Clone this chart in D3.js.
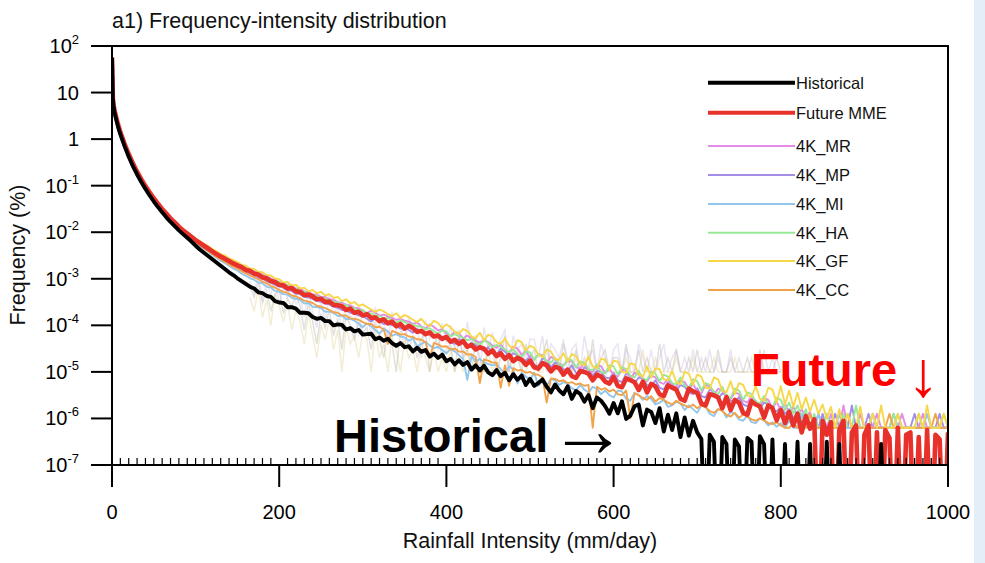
<!DOCTYPE html>
<html><head><meta charset="utf-8">
<script src="https://cdn.jsdelivr.net/npm/d3@7"></script>
<style>
html,body{margin:0;padding:0;background:#fff;}
svg{display:block;font-family:"Liberation Sans",Arial,Helvetica,sans-serif;}
</style></head>
<body><svg id="chart" width="985" height="563"></svg>
<script>
// ---------- DATA (log10 of frequency in %; null = zero count) ----------
const binsHead = [0, 1, 2, 3, 5, 7, 10];           // fine bins at start (mm/day)
const binsMain = d3.range(15, 1001, 5);            // 15..1000 mm/day, step 5
const intensity = binsHead.concat(binsMain);

const historicalLog = [
 1.75,0.85,0.68,0.58,0.42,0.28,0.10,
 -0.15,-0.38,-0.58,-0.76,-0.92,-1.07,-1.21,-1.34,-1.46,-1.57,-1.68,-1.78,-1.87,-1.96,-2.04,-2.12,-2.20,
 -2.29,-2.37,-2.44,-2.51,-2.58,-2.65,-2.72,-2.79,-2.86,-2.92,-2.99,-3.05,-3.11,-3.17,-3.21,-3.29,-3.31,-3.37,-3.39,-3.48,
 -3.51,-3.52,-3.61,-3.61,-3.64,-3.73,-3.73,-3.74,-3.82,-3.86,-3.84,-3.91,-3.91,-4.00,-3.98,-3.99,-4.09,-4.06,-4.13,-4.10,
 -4.20,-4.19,-4.18,-4.30,-4.26,-4.33,-4.29,-4.38,-4.44,-4.38,-4.47,-4.45,-4.56,-4.48,-4.57,-4.53,-4.67,-4.61,-4.70,-4.63,
 -4.77,-4.72,-4.84,-4.75,-4.85,-4.79,-4.95,-4.86,-4.97,-4.87,-5.01,-5.07,-4.96,-5.09,-5.02,-5.18,-5.05,-5.17,-5.08,-5.28,
 -5.15,-5.30,-5.24,-5.16,-5.32,-5.44,-5.27,-5.40,-5.48,-5.31,-5.58,-5.41,-5.47,-5.64,-5.50,-5.78,-5.55,-5.62,-5.74,-5.90,
 -5.67,-5.89,-5.63,-6.01,-5.94,-5.74,-5.70,-6.15,-5.81,-5.86,-6.10,-5.78,-6.28,-5.92,-6.25,-5.89,-6.40,-5.98,-6.37,-6.05,
 -6.30,-6.44,null,-6.35,-6.50,null,-6.40,-6.55,null,-6.45,-6.60,null,-6.42,-6.50,null,-6.38,-6.55,null,-6.45,null,
 null,-6.55,null,null,-6.50,null,null,-6.55,null,null,null,-6.50,null,null,-6.55,null,null,null,null,null,
 null,null,null,null,-6.55,null,null,null,null,null,null,null,null,null,null,null,null,null,null,null,
 null
];

const futureMMELog = [
 1.75,0.88,0.72,0.62,0.47,0.33,0.15,
 -0.10,-0.32,-0.52,-0.70,-0.86,-1.01,-1.14,-1.27,-1.39,-1.50,-1.60,-1.70,-1.79,-1.88,-1.96,-2.03,-2.10,
 -2.17,-2.23,-2.29,-2.35,-2.41,-2.47,-2.52,-2.57,-2.62,-2.67,-2.71,-2.75,-2.81,-2.83,-2.89,-2.91,-2.97,-2.99,-3.05,-3.07,
 -3.13,-3.14,-3.21,-3.20,-3.27,-3.28,-3.35,-3.34,-3.38,-3.44,-3.43,-3.50,-3.49,-3.56,-3.57,-3.59,-3.67,-3.64,-3.73,-3.71,
 -3.79,-3.76,-3.84,-3.83,-3.91,-3.87,-3.96,-3.92,-4.02,-3.97,-4.07,-4.01,-4.06,-4.14,-4.12,-4.19,-4.15,-4.24,-4.22,-4.29,
 -4.25,-4.35,-4.31,-4.40,-4.34,-4.46,-4.42,-4.52,-4.47,-4.50,-4.61,-4.54,-4.66,-4.60,-4.72,-4.64,-4.77,-4.70,-4.74,-4.85,
 -4.76,-4.90,-4.93,-4.81,-4.86,-4.99,-4.89,-4.92,-5.06,-4.95,-5.09,-5.13,-4.98,-5.00,-5.04,-5.18,-5.06,-5.10,-5.21,-5.25,
 -5.11,-5.30,-5.33,-5.14,-5.18,-5.22,-5.39,-5.21,-5.44,-5.26,-5.31,-5.48,-5.52,-5.29,-5.34,-5.38,-5.58,-5.62,-5.36,-5.42,
 -5.45,-5.68,-5.72,-5.48,-5.50,-5.55,-5.78,-5.54,-5.82,-5.60,-5.66,-5.88,-5.92,-5.63,-5.70,-5.74,-5.98,-5.72,-5.78,-6.04,
 -5.82,-6.10,-5.86,-6.15,-5.90,-6.30,-5.95,-6.22,-6.02,null,-6.05,-6.35,-6.08,null,-6.25,-6.05,null,-6.30,-6.15,null,
 -6.35,-6.15,null,-6.30,null,-6.25,-6.42,null,-6.20,null,-6.35,-6.30,null,-6.40,null,-6.25,null,-6.35,-6.45,null,
 -6.30
];

// ensemble members: bins 100..1000 step 5
const memberBins = d3.range(100, 1001, 5);

const mrLog = [
 -2.16,-2.22,-2.27,-2.33,-2.39,-2.45,-2.49,-2.54,-2.59,-2.64,-2.68,-2.72,-2.76,-2.80,-2.84,-2.87,-2.91,-2.95,-2.99,-3.03,
 -3.07,-3.09,-3.14,-3.15,-3.21,-3.21,-3.27,-3.28,-3.33,-3.34,-3.39,-3.39,-3.44,-3.45,-3.50,-3.52,-3.56,-3.57,-3.62,-3.63,
 -3.69,-3.74,-3.68,-3.73,-3.79,-3.77,-3.81,-3.84,-3.88,-3.86,-3.90,-3.92,-3.97,-3.94,-4.02,-4.07,-3.98,-4.03,-4.11,-4.08,
 -4.18,-4.23,-4.14,-4.17,-4.28,-4.22,-4.28,-4.33,-4.37,-4.32,-4.36,-4.43,-4.48,-4.41,-4.53,-4.58,-4.46,-4.50,-4.63,-4.55,
 -4.70,-4.74,-4.62,-4.64,-4.80,-4.68,-4.72,-4.83,-4.86,-4.76,-4.78,-4.90,-4.93,-4.82,-4.96,-5.00,-4.86,-4.88,-5.03,-4.92,
 -5.07,-5.10,-4.95,-4.98,-5.14,-5.02,-5.06,-5.16,-5.20,-5.08,-5.12,-5.22,-5.26,-5.15,-5.30,-5.32,-5.18,-5.22,-5.36,-5.26,
 -5.42,-5.46,-5.28,-5.32,-5.50,-5.36,-5.40,-5.54,-5.58,-5.44,-5.48,-5.62,-5.66,-5.52,-5.70,-5.74,-5.56,-5.60,-5.78,-5.64,
 -5.82,-5.68,-5.88,-5.75,-5.95,-5.80,-6.00,-5.85,-6.20,-5.90,-6.20,-6.20,-5.90,-6.20,-6.20,-5.72,-6.20,-6.20,-6.20,-5.90,
 -6.20,-6.20,-6.20,-5.90,-6.20,-6.20,-6.20,-6.20,-6.20,-5.90,-6.20,-6.20,-6.20,-6.20,-5.90,-6.20,-6.20,-6.20,-6.20,-6.20,
 -6.20
];
const mpLog = [
 -2.20,-2.26,-2.32,-2.38,-2.44,-2.50,-2.56,-2.60,-2.66,-2.71,-2.75,-2.80,-2.84,-2.89,-2.92,-2.97,-3.00,-3.05,-3.09,-3.13,
 -3.17,-3.19,-3.25,-3.26,-3.32,-3.33,-3.39,-3.40,-3.43,-3.48,-3.49,-3.54,-3.55,-3.60,-3.62,-3.67,-3.68,-3.73,-3.74,-3.79,
 -3.80,-3.86,-3.92,-3.85,-3.90,-3.97,-3.96,-4.00,-4.01,-4.07,-4.04,-4.10,-4.16,-4.08,-4.12,-4.20,-4.17,-4.21,-4.24,-4.29,
 -4.25,-4.36,-4.40,-4.30,-4.33,-4.45,-4.38,-4.42,-4.50,-4.55,-4.47,-4.60,-4.64,-4.50,-4.56,-4.68,-4.60,-4.64,-4.72,-4.76,
 -4.66,-4.85,-4.88,-4.70,-4.76,-4.90,-4.80,-4.84,-4.94,-4.98,-4.86,-5.02,-5.05,-4.90,-4.95,-5.08,-4.98,-5.00,-5.12,-5.14,
 -5.02,-5.18,-5.22,-5.04,-5.08,-5.25,-5.12,-5.15,-5.28,-5.30,-5.18,-5.34,-5.38,-5.22,-5.26,-5.40,-5.28,-5.32,-5.44,-5.48,
 -5.35,-5.52,-5.55,-5.38,-5.42,-5.58,-5.46,-5.50,-5.62,-5.66,-5.54,-5.70,-5.74,-5.58,-5.62,-5.78,-5.66,-5.70,-5.80,-5.85,
 -5.75,-5.90,-5.80,-6.00,-5.85,-6.10,-5.90,-6.20,-5.95,-6.20,-5.90,-6.20,-6.20,-5.90,-6.20,-6.20,-6.20,-5.72,-6.20,-6.20,
 -6.20,-5.90,-6.20,-6.20,-6.20,-6.20,-6.20,-5.90,-6.20,-6.20,-6.20,-6.20,-5.90,-6.20,-6.20,-6.20,-6.20,-6.20,-5.90,-6.20,
 -6.20
];
const miLog = [
 -2.23,-2.30,-2.36,-2.42,-2.49,-2.55,-2.61,-2.66,-2.72,-2.78,-2.82,-2.89,-2.93,-2.99,-3.02,-3.08,-3.10,-3.17,-3.19,-3.26,
 -3.28,-3.33,-3.34,-3.41,-3.43,-3.45,-3.53,-3.52,-3.60,-3.61,-3.63,-3.71,-3.70,-3.73,-3.80,-3.79,-3.87,-3.86,-3.90,-3.96,
 -4.04,-3.96,-4.02,-4.10,-4.18,-4.07,-4.13,-4.22,-4.19,-4.24,-4.26,-4.33,-4.28,-4.45,-4.40,-4.35,-4.43,-4.49,-4.46,-4.53,
 -4.60,-4.50,-4.56,-4.64,-4.72,-5.17,-4.66,-4.78,-4.72,-4.80,-4.83,-4.86,-4.84,-4.94,-5.05,-4.88,-4.95,-5.25,-5.02,-5.10,
 -5.18,-5.02,-5.30,-5.20,-5.30,-5.15,-5.18,-5.28,-5.22,-5.25,-5.35,-5.40,-5.28,-5.38,-5.45,-5.32,-5.36,-5.48,-5.40,-5.50,
 -5.55,-5.40,-5.42,-5.58,-5.62,-5.45,-5.50,-5.60,-5.52,-5.58,-5.70,-5.66,-5.60,-5.75,-5.72,-5.64,-5.68,-5.82,-5.72,-5.80,
 -5.88,-5.72,-5.74,-5.90,-5.95,-5.80,-5.82,-5.98,-5.86,-5.90,-6.02,-6.05,-5.94,-6.08,-6.10,-6.00,-6.04,-6.15,-6.08,-6.18,
 -6.10,-6.20,-6.05,-6.20,-6.20,-5.90,-6.20,-6.20,-6.20,-5.90,-6.20,-6.20,-6.20,-6.20,-5.90,-6.20,-6.20,-6.20,-6.20,-6.20,
 -6.20,-6.20,-5.90,-6.20,-6.20,-6.20,-6.20,-6.20,-5.90,-6.20,-6.20,-6.20,-6.20,-6.20,-6.20,-5.90,-6.20,-6.20,-6.20,-6.20,
 -6.20
];
const haLog = [
 -2.17,-2.23,-2.28,-2.34,-2.40,-2.46,-2.51,-2.56,-2.61,-2.65,-2.69,-2.74,-2.78,-2.82,-2.86,-2.90,-2.93,-2.97,-3.01,-3.05,
 -3.07,-3.13,-3.14,-3.20,-3.21,-3.26,-3.28,-3.32,-3.35,-3.37,-3.41,-3.43,-3.46,-3.49,-3.51,-3.56,-3.57,-3.62,-3.63,-3.68,
 -3.67,-3.75,-3.74,-3.79,-3.80,-3.85,-3.84,-3.89,-3.94,-3.89,-3.93,-3.98,-3.98,-4.02,-4.03,-4.08,-4.06,-4.13,-4.17,-4.11,
 -4.13,-4.24,-4.19,-4.23,-4.27,-4.32,-4.29,-4.37,-4.42,-4.33,-4.37,-4.48,-4.42,-4.46,-4.52,-4.58,-4.51,-4.62,-4.68,-4.56,
 -4.58,-4.74,-4.62,-4.66,-4.77,-4.80,-4.70,-4.84,-4.88,-4.72,-4.75,-4.90,-4.78,-4.80,-4.94,-4.97,-4.84,-5.00,-5.03,-4.86,
 -4.88,-5.06,-4.90,-4.94,-5.08,-5.12,-4.98,-5.14,-5.18,-5.00,-5.04,-5.20,-5.06,-5.10,-5.24,-5.27,-5.12,-5.30,-5.34,-5.16,
 -5.20,-5.40,-5.24,-5.28,-5.44,-5.48,-5.32,-5.52,-5.56,-5.36,-5.40,-5.60,-5.44,-5.48,-5.64,-5.68,-5.52,-5.72,-5.76,-5.56,
 -5.60,-5.82,-5.66,-5.90,-5.72,-6.00,-5.80,-6.20,-5.90,-6.20,-6.20,-5.90,-6.20,-6.20,-6.20,-5.90,-6.20,-6.20,-5.72,-6.20,
 -6.20,-6.20,-5.90,-6.20,-6.20,-6.20,-6.20,-5.90,-6.20,-6.20,-6.20,-6.20,-6.20,-5.90,-6.20,-6.20,-6.20,-6.20,-6.20,-5.90,
 -6.20
];
const gfLog = [
 -2.14,-2.19,-2.25,-2.30,-2.36,-2.41,-2.47,-2.50,-2.56,-2.60,-2.64,-2.70,-2.72,-2.78,-2.79,-2.85,-2.86,-2.92,-2.93,-2.99,
 -3.01,-3.08,-3.07,-3.15,-3.13,-3.21,-3.19,-3.27,-3.24,-3.31,-3.28,-3.36,-3.33,-3.41,-3.39,-3.48,-3.44,-3.53,-3.50,-3.58,
 -3.55,-3.61,-3.66,-3.71,-3.66,-3.70,-3.76,-3.80,-3.74,-3.84,-3.78,-3.82,-3.88,-3.93,-3.86,-3.97,-4.02,-3.90,-3.95,-4.06,
 -3.98,-4.04,-4.14,-4.18,-4.08,-4.12,-4.24,-4.28,-4.16,-4.32,-4.20,-4.24,-4.36,-4.40,-4.28,-4.44,-4.50,-4.32,-4.36,-4.54,
 -4.44,-4.48,-4.64,-4.68,-4.52,-4.56,-4.72,-4.74,-4.60,-4.78,-4.62,-4.66,-4.82,-4.86,-4.68,-4.88,-4.92,-4.72,-4.74,-4.96,
 -4.76,-4.78,-5.00,-5.02,-4.82,-4.84,-5.06,-5.10,-4.88,-5.12,-4.92,-4.94,-5.16,-5.18,-4.98,-5.22,-5.26,-5.00,-5.04,-5.28,
 -5.06,-5.10,-5.34,-5.36,-5.12,-5.16,-5.40,-5.44,-5.20,-5.48,-5.24,-5.28,-5.50,-5.54,-5.30,-5.58,-5.62,-5.34,-5.38,-5.66,
 -5.30,-5.70,-5.40,-5.75,-5.45,-5.80,-5.55,-5.85,-5.60,-5.90,-5.70,-6.00,-5.75,-6.20,-5.80,-6.20,-5.90,-6.20,-6.20,-5.75,
 -6.20,-6.20,-5.90,-6.20,-5.72,-6.20,-6.20,-6.20,-5.90,-6.20,-6.20,-6.20,-6.20,-5.90,-6.20,-5.72,-6.20,-6.20,-6.20,-5.90,
 -6.20
];
const ccLog = [
 -2.21,-2.27,-2.34,-2.40,-2.46,-2.53,-2.58,-2.63,-2.69,-2.74,-2.78,-2.84,-2.88,-2.93,-2.97,-3.01,-3.06,-3.10,-3.15,-3.19,
 -3.24,-3.28,-3.30,-3.36,-3.38,-3.42,-3.47,-3.49,-3.52,-3.58,-3.60,-3.63,-3.67,-3.72,-3.73,-3.79,-3.79,-3.85,-3.86,-3.88,
 -3.93,-3.97,-3.97,-4.04,-4.03,-4.09,-4.40,-4.12,-4.15,-4.20,-4.19,-4.24,-4.25,-4.30,-4.31,-4.36,-4.70,-4.38,-4.41,-4.46,
 -4.45,-4.52,-4.50,-4.57,-4.56,-4.63,-4.62,-4.68,-5.24,-4.73,-4.76,-4.80,-4.80,-5.34,-4.86,-5.30,-4.92,-4.97,-4.96,-5.02,
 -5.00,-5.05,-5.06,-5.12,-5.66,-5.14,-5.15,-5.20,-5.18,-5.24,-5.22,-5.27,-5.25,-5.30,-5.28,-6.20,-5.32,-5.38,-5.35,-5.42,
 -5.38,-5.48,-5.50,-5.40,-6.00,-5.46,-5.50,-5.56,-5.60,-5.52,-5.64,-5.56,-5.60,-5.66,-5.70,-5.62,-5.68,-5.72,-5.76,-5.70,
 -5.78,-5.72,-5.76,-5.84,-5.88,-5.80,-5.84,-5.92,-5.96,-5.88,-5.98,-5.92,-5.96,-6.02,-6.05,-6.00,-6.04,-6.10,-6.12,-6.08,
 -6.15,-6.20,-6.20,-6.10,-6.20,-6.20,-6.20,-5.90,-6.20,-6.20,-6.20,-6.20,-6.20,-6.20,-6.20,-6.20,-5.90,-6.20,-6.20,-6.20,
 -6.20,-6.20,-6.20,-6.20,-6.20,-6.20,-5.90,-6.20,-6.20,-6.20,-6.20,-6.20,-6.20,-6.20,-6.20,-6.20,-6.20,-5.90,-6.20,-6.20,
 -6.20
];

// faint background runs (coarse sample, counts of 1e-5 %), bins 165..800 step 5
const ghostBins = d3.range(165, 801, 5);
const ghostUnit = 1e-5;
const ghostA = [70,40,85,30,55,20,45,60,18,38,25,50,
 25,8,30,12,4,18,9,22,6,14,3,17,10,5,12,7,
 9,3,12,5,2,8,4,1,7,10,3,6,2,5,8,1,4,6,2,3,
 4,1,6,2,3,1,5,2,1,4,3,1,2,6,1,3,2,1,4,2,
 3,1,2,5,1,2,1,4,2,1,3,1,2,1,5,1,2,3,1,2,
 2,1,4,1,1,3,1,2,1,1,4,1,2,1,3,1,1,2,1,3,
 1,2,1,1,3,1,1,2,1,1,1,2,1,1,3,1,1,1,2,1];
const ghostB = [90,50,120,35,80,45,100,30,65,40,75,28,
 40,15,55,20,9,35,12,45,18,25,8,30,14,20,6,22,
 18,6,25,9,14,4,20,8,12,3,16,7,10,2,13,5,9,3,11,4,
 10,3,8,2,12,4,6,1,9,3,7,2,5,8,1,6,3,4,2,5,
 5,2,6,1,4,3,2,5,1,3,4,1,6,2,3,1,4,2,1,3,
 4,1,3,2,1,4,2,1,3,1,2,4,1,2,3,1,2,1,3,1,
 2,1,3,1,2,1,1,3,1,2,1,1,2,1,1,3,1,2,1,1];
const ghostC = [40,20,60,15,35,10,50,25,12,30,8,20,
 12,4,18,6,2,10,5,14,3,8,1,9,4,6,2,7,
 5,1,8,2,4,1,6,3,1,5,2,3,1,4,2,1,3,1,2,1,
 3,1,2,1,4,1,2,1,1,3,1,2,1,1,2,1,3,1,1,2,
 2,1,1,3,1,1,2,1,1,1,2,1,1,3,1,1,1,2,1,1,
 1,1,2,1,1,1,3,1,1,2,1,1,1,1,2,1,1,1,2,1,
 1,1,1,2,1,1,1,1,2,1,1,1,1,1,2,1,1,1,1,1];

const legendNames  = ["Historical","Future MME","4K_MR","4K_MP","4K_MI","4K_HA","4K_GF","4K_CC"];
const legendColors = ["#000000","#e8312a","#e58be8","#a48de6","#92c6ec","#97e897","#f7d74a","#f2a34a"];
const ghostColors  = ["#a9a39c","#c2b0dc","#dccb84"];
const xTicks = [0,200,400,600,800,1000];
const yTickExps = [2,1,0,-1,-2,-3,-4,-5,-6,-7];

// ---------- LAYOUT ----------
const W = 985, H = 563;
const m = {l:112, r:948, t:46, b:465};
const svg = d3.select("#chart");
svg.append("rect").attr("x",0).attr("y",0).attr("width",W).attr("height",H).attr("fill","#fff");
svg.append("rect").attr("x",974).attr("y",0).attr("width",11).attr("height",H).attr("fill","#e4eef9");

const x = d3.scaleLinear().domain([0,1000]).range([m.l, m.r]);
const y = d3.scaleLog().domain([1e-7, 100]).range([m.b, m.t]);
const zeroFloor = 1e-9; // zero counts drawn off the bottom (clipped)

svg.append("defs").append("clipPath").attr("id","clip")
  .append("rect").attr("x",m.l).attr("y",m.t).attr("width",m.r-m.l).attr("height",m.b-m.t);

const plot = svg.append("g").attr("clip-path","url(#clip)");

const lineLog = d3.line()
  .x(d => x(d[0]))
  .y(d => y(d[1] == null ? zeroFloor : Math.pow(10, d[1])));
const lineVal = d3.line().x(d => x(d[0])).y(d => y(d[1]));

// faint background runs
[ghostA, ghostB, ghostC].forEach((arr, gi) => {
  plot.append("path")
    .datum(ghostBins.map((b,i) => [b, arr[i]*ghostUnit]))
    .attr("d", lineVal).attr("fill","none")
    .attr("stroke", ghostColors[gi]).attr("stroke-opacity", 0.34).attr("stroke-width", 1.5);
});

// members
const members = [[mpLog,3],[mrLog,2],[haLog,5],[miLog,4],[ccLog,7],[gfLog,6]];
members.forEach(([arr, ci]) => {
  plot.append("path")
    .datum(memberBins.map((b,i) => [b, arr[i]]))
    .attr("d", lineLog).attr("fill","none")
    .attr("stroke", legendColors[ci]).attr("stroke-width", 1.9).attr("stroke-linejoin","round");
});

// MME and historical
plot.append("path").datum(intensity.map((b,i) => [b, futureMMELog[i]]))
  .attr("d", lineLog).attr("fill","none").attr("stroke", legendColors[1])
  .attr("stroke-width", 4.6).attr("stroke-linejoin","round");
plot.append("path").datum(intensity.map((b,i) => [b, historicalLog[i]]))
  .attr("d", lineLog).attr("fill","none").attr("stroke", legendColors[0])
  .attr("stroke-width", 3.9).attr("stroke-linejoin","round");

// frame
svg.append("rect").attr("x",m.l).attr("y",m.t).attr("width",m.r-m.l).attr("height",m.b-m.t)
  .attr("fill","none").attr("stroke","#000").attr("stroke-width",2);

// y ticks
const yAx = svg.append("g");
yTickExps.forEach(e => {
  const yy = y(Math.pow(10,e));
  yAx.append("line").attr("x1",91).attr("x2",m.l).attr("y1",yy).attr("y2",yy)
    .attr("stroke","#000").attr("stroke-width",2);
  const t = yAx.append("text").attr("x",79).attr("y",yy+7).attr("text-anchor","end")
    .attr("font-size",20).attr("fill","#000");
  if (e === 1) t.text("10");
  else if (e === 0) t.text("1");
  else {
    t.append("tspan").text("10");
    t.append("tspan").attr("dy",-9).attr("font-size",13).text(String(e));
  }
});

// x ticks
const xAx = svg.append("g");
d3.range(0, 1001, 10).forEach(v => {
  const major = xTicks.includes(v);
  if (major) {
    xAx.append("line").attr("x1",x(v)).attr("x2",x(v)).attr("y1",m.b).attr("y2",m.b+22)
      .attr("stroke","#000").attr("stroke-width",2);
  } else {
    xAx.append("line").attr("x1",x(v)).attr("x2",x(v)).attr("y1",m.b).attr("y2",m.b-7)
      .attr("stroke","#000").attr("stroke-width",1.2);
  }
});
xTicks.forEach(v => {
  xAx.append("text").attr("x",x(v)).attr("y",519).attr("text-anchor","middle")
    .attr("font-size",20).attr("fill","#000").text(v);
});

// titles
svg.append("text").attr("x",112).attr("y",28).attr("font-size",21.5).attr("fill","#111")
  .text("a1) Frequency-intensity distribution");
svg.append("text").attr("x",530).attr("y",548).attr("text-anchor","middle")
  .attr("font-size",21.5).attr("fill","#111").text("Rainfall Intensity (mm/day)");
svg.append("text").attr("transform","translate(17,255) rotate(-90)").attr("text-anchor","middle")
  .attr("dy","0.35em").attr("font-size",21.5).attr("fill","#111").text("Frequency (%)");

// legend
const legY = [82.7,112.7,146,175,204,232.7,261,290];
legendNames.forEach((n,i) => {
  svg.append("line").attr("x1",708).attr("x2",795).attr("y1",legY[i]).attr("y2",legY[i])
    .attr("stroke",legendColors[i]).attr("stroke-width", i < 2 ? 4 : 2);
  svg.append("text").attr("x",796).attr("y",legY[i]).attr("dy","0.36em")
    .attr("font-size",16.5).attr("fill","#111").text(n);
});

// annotations
svg.append("text").attr("x",334).attr("y",452).attr("font-size",47).attr("font-weight","bold")
  .attr("fill","#000").text("Historical");
svg.append("text").attr("x",549).attr("y",456).attr("font-size",78)
  .attr("fill","#000").text("\u2192");
svg.append("text").attr("x",751).attr("y",386).attr("font-size",47).attr("font-weight","bold")
  .attr("fill","#ff0000").text("Future");
svg.append("text").attr("x",907).attr("y",396).attr("font-size",64)
  .attr("fill","#ff0000").text("\u2193");
</script>
</body></html>
